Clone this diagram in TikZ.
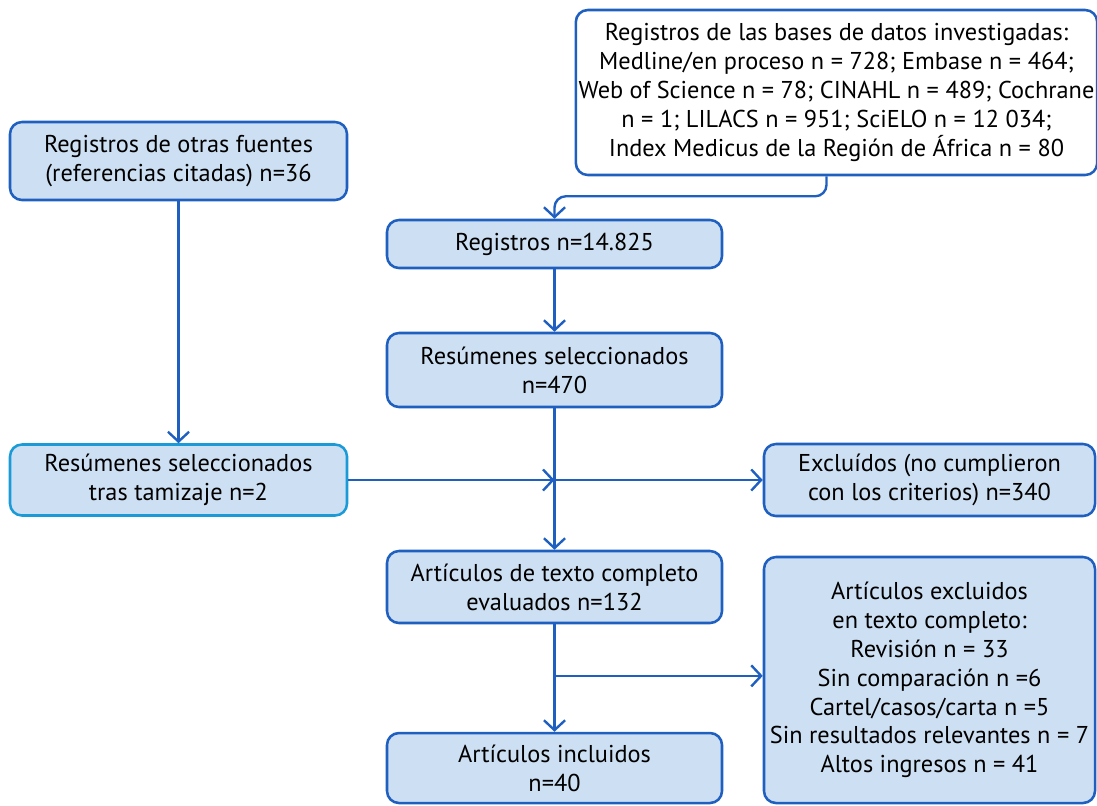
\documentclass[tikz,border=0pt]{standalone}
\usepackage{fontspec}
\setmainfont{PT Sans}
\usepackage{tikz}
\usetikzlibrary{arrows.meta,calc}
\definecolor{flowblue}{RGB}{31,95,191}
\definecolor{flowcyan}{RGB}{26,154,214}
\definecolor{flowfill}{RGB}{205,223,242}
\tikzset{
  box/.style={draw=flowblue, fill=flowfill, line width=1.8pt, rounded corners=8.5pt,
    align=center, inner sep=2pt, font=\fontsize{17.3}{20.5}\selectfont},
  arr/.style={draw=flowblue, line width=1.7pt, -{Straight Barb[length=7pt,width=15pt,line width=1.7pt]}},
  lin/.style={draw=flowblue, line width=1.7pt}
}
\begin{document}
\begin{tikzpicture}[x=0.025cm,y=-0.025cm]
\useasboundingbox (0,0) rectangle (1097,805);
\node[box, fill=white, minimum width=518*0.025cm, minimum height=165*0.025cm] (bases) at (836.5,92.5)
  {Registros de las bases de datos investigadas:\\ Medline/en proceso n = 728; Embase n = 464;\\
   Web of Science n = 78; CINAHL n = 489; Cochrane\\ n = 1; LILACS n = 951; SciELO n = 12 034;\\
   Index Medicus de la Región de África n = 80};
\node[box, minimum width=337*0.025cm, minimum height=78*0.025cm] (otras) at (178.5,161)
  {Registros de otras fuentes\\ (referencias citadas) n=36};
\node[box, minimum width=335*0.025cm, minimum height=48*0.025cm] (reg) at (554.5,244)
  {Registros n=14.825};
\node[box, minimum width=335*0.025cm, minimum height=74*0.025cm] (res) at (554.5,370)
  {Resúmenes seleccionados\\ n=470};
\node[box, draw=flowcyan, minimum width=337*0.025cm, minimum height=71*0.025cm] (tam) at (178.5,480)
  {Resúmenes seleccionados\\ tras tamizaje n=2};
\node[box, minimum width=331*0.025cm, minimum height=72*0.025cm] (excl) at (929.5,480)
  {Excluídos (no cumplieron\\ con los criterios) n=340};
\node[box, minimum width=335*0.025cm, minimum height=72*0.025cm] (art) at (554.5,587)
  {Artículos de texto completo\\ evaluados n=132};
\node[box, minimum width=335*0.025cm, minimum height=70*0.025cm] (inc) at (554.5,768)
  {Artículos incluidos\\ n=40};
\node[box, minimum width=331*0.025cm, minimum height=246*0.025cm] (artex) at (929.5,680)
  {Artículos excluidos\\ en texto completo:\\ Revisión n = 33\\ Sin comparación n =6\\
   Cartel/casos/carta n =5\\ Sin resultados relevantes n = 7\\ Altos ingresos n = 41};

\coordinate (j1) at (res.south |- tam.east);
\coordinate (j2) at ($(art.south)!0.48!(inc.north)$);

\draw[arr, rounded corners=8pt] ([xshift=-10*0.025cm]bases.south) -- ++(0,20) -| (reg.north);
\draw[arr] (reg) -- (res);
\draw[arr] (otras) -- (tam);
\draw[arr] (res) -- (art);
\draw[arr] (tam.east) -- (j1);
\draw[arr] (j1) -- (excl.west);
\draw[arr] (art) -- (inc);
\draw[arr] (j2) -- (j2 -| artex.west);
\end{tikzpicture}
\end{document}
